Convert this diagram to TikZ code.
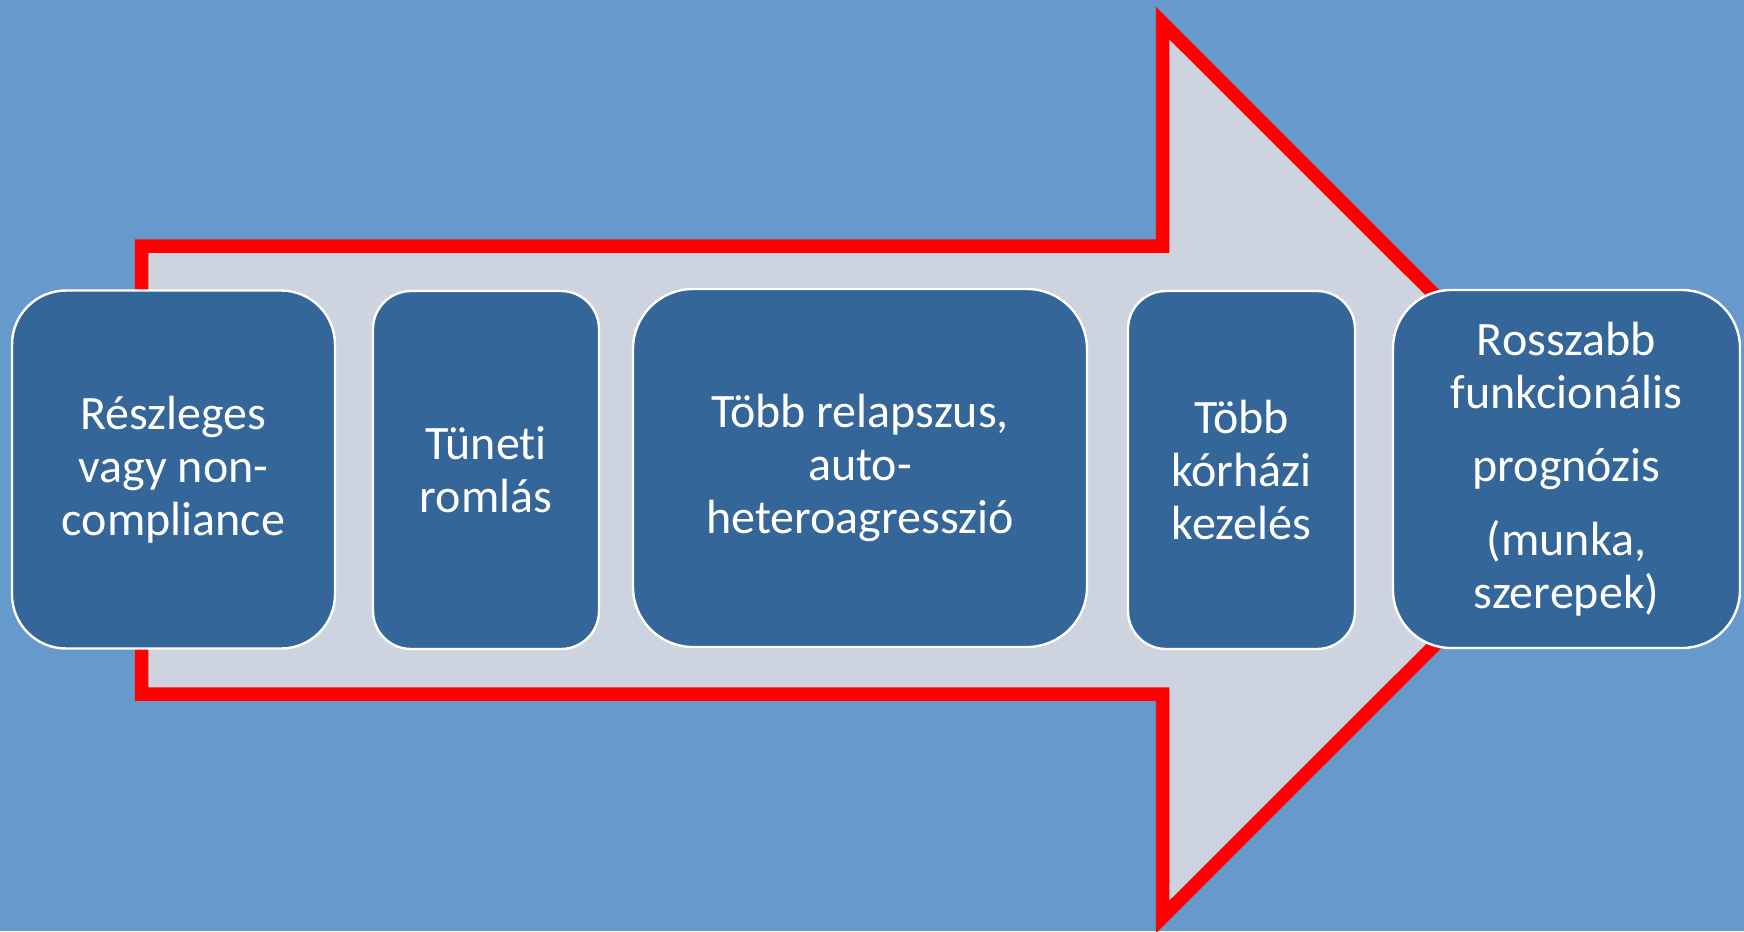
\documentclass[tikz,border=0pt]{standalone}
\usepackage{fontspec}
\setmainfont{Carlito}[Ligatures={NoCommon,NoRare,NoDiscretionary}]
\definecolor{bgblue}{RGB}{102,153,204}
\definecolor{arrowgrey}{RGB}{205,211,223}
\definecolor{boxblue}{RGB}{52,102,153}
\definecolor{arrowred}{RGB}{255,0,0}
\begin{document}
\begin{tikzpicture}[x=0.5pt,y=-0.5pt,
  stagebox/.style={draw=white, line width=1.2pt, fill=boxblue, text=white,
    align=center, inner sep=0pt, font=\fontsize{24}{26.4}\selectfont},
  bigarrow/.style={draw=arrowred, fill=arrowgrey, line width=6.75pt, line join=miter}]
\fill[bgblue] (0,0) rectangle (1744,931);
\useasboundingbox (0,0) rectangle (1744,931);
\coordinate (a1) at (141.5,246);
\coordinate (a2) at (1162.5,246);
\coordinate (a3) at (1162.5,23);
\coordinate (a4) at (1610,470);
\coordinate (a5) at (1162.5,917);
\coordinate (a6) at (1162.5,694);
\coordinate (a7) at (141.5,694);
\draw[bigarrow] (a1) -- (a2) -- (a3) -- (a4) -- (a5) -- (a6) -- (a7) -- cycle;
\node[stagebox, minimum width=161.5pt, minimum height=179pt, rounded corners=27pt] (b1) at (173.5,469.5) {Részleges\\vagy non-\\compliance};
\node[stagebox, minimum width=113pt, minimum height=179pt, rounded corners=19pt] (b2) at (486,470) {Tüneti\\romlás};
\node[stagebox, minimum width=227pt, minimum height=179pt, rounded corners=30pt] (b3) at (860,468) {Több relapszus,\\auto-\\heteroagresszió};
\node[stagebox, minimum width=113.5pt, minimum height=179pt, rounded corners=19pt] (b4) at (1241.5,470) {Több\\kórházi\\kezelés};
\node[stagebox, minimum width=173.5pt, minimum height=179pt, rounded corners=29pt] (b5) at (1566.5,469) {Rosszabb\\funkcionális\\[10.5pt]prognózis\\[10.5pt](munka,\\szerepek)};
\end{tikzpicture}
\end{document}
